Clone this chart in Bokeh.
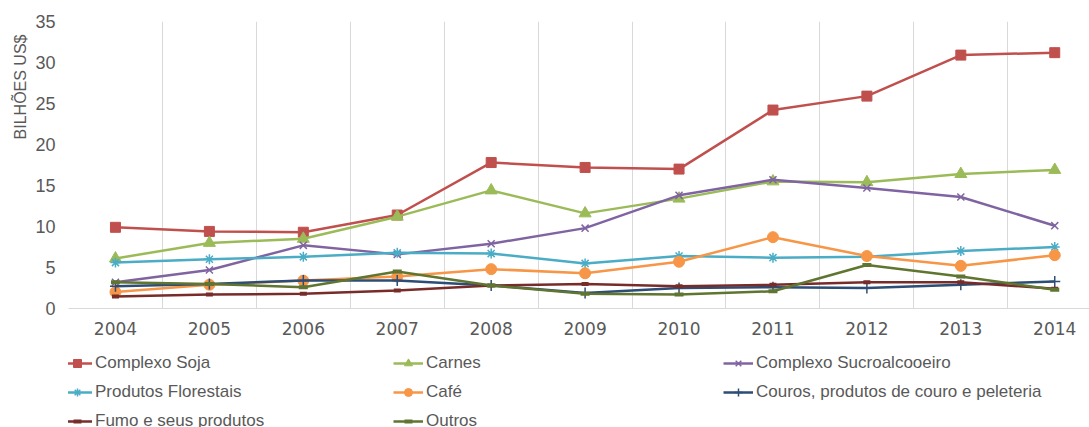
from bokeh.plotting import figure
from bokeh.layouts import column
from bokeh.models import Range1d, FixedTicker, Legend, LegendItem, Title
from bokeh.embed import file_html
from bokeh.resources import INLINE

years = [2004, 2005, 2006, 2007, 2008, 2009, 2010, 2011, 2012, 2013, 2014]
soja = [9.9, 9.4, 9.3, 11.4, 17.8, 17.2, 17.0, 24.2, 25.9, 30.9, 31.2]
carnes = [6.1, 8.0, 8.5, 11.2, 14.4, 11.6, 13.4, 15.5, 15.4, 16.4, 16.9]
sucro = [3.2, 4.7, 7.7, 6.6, 7.9, 9.8, 13.8, 15.7, 14.7, 13.6, 10.1]
florestais = [5.6, 6.0, 6.3, 6.8, 6.7, 5.5, 6.4, 6.2, 6.3, 7.0, 7.5]
cafe = [2.0, 2.9, 3.4, 3.9, 4.8, 4.3, 5.7, 8.7, 6.4, 5.2, 6.5]
couros = [2.7, 3.0, 3.4, 3.4, 2.8, 1.9, 2.5, 2.6, 2.5, 2.9, 3.3]
fumo = [1.45, 1.7, 1.8, 2.2, 2.8, 3.0, 2.7, 2.9, 3.2, 3.2, 2.4]
outros = [3.2, 3.0, 2.6, 4.5, 2.8, 1.8, 1.7, 2.1, 5.3, 3.9, 2.3]
y_ticks = [0, 5, 10, 15, 20, 25, 30, 35]

FONT = "Liberation Sans"
TXT = "#595959"

p = figure(width=1089, height=348, output_backend="svg", toolbar_location=None,
           x_range=Range1d(2003.5, 2014.37), y_range=Range1d(0, 35),
           min_border_left=68, min_border_right=0, min_border_top=21,
           min_border_bottom=40)
p.outline_line_color = None
p.background_fill_color = "white"
p.border_fill_color = "white"
p.ygrid.visible = False
p.xgrid.ticker = FixedTicker(ticks=[y - 0.5 for y in years] + [years[-1] + 0.5])
p.xgrid.grid_line_color = "#D9D9D9"
p.xgrid.grid_line_width = 1

p.xaxis.ticker = FixedTicker(ticks=years)
p.xaxis.axis_line_color = "#D9D9D9"
p.xaxis.major_tick_line_color = None
p.xaxis.minor_tick_line_color = None
p.xaxis.major_tick_out = 0
p.xaxis.major_tick_in = 0
p.xaxis.major_label_standoff = 13
p.xaxis.major_label_text_font = "DejaVu Sans"
p.xaxis.major_label_text_font_size = "17px"
p.xaxis.major_label_text_color = TXT

p.yaxis.ticker = FixedTicker(ticks=y_ticks)
p.yaxis.axis_line_color = None
p.yaxis.major_tick_line_color = None
p.yaxis.minor_tick_line_color = None
p.yaxis.major_tick_out = 0
p.yaxis.major_tick_in = 0
p.yaxis.major_label_standoff = 13
p.yaxis.major_label_text_font = FONT
p.yaxis.major_label_text_font_size = "18px"
p.yaxis.major_label_text_color = TXT

p.add_layout(Title(text="BILHÕES US$", align="right", offset=13,
                   text_font=FONT, text_font_size="16px", text_font_style="normal",
                   text_color=TXT, standoff=8), "left")

series = [
    ("Complexo Soja", soja, "#C0504D", "square", 10, 1),
    ("Carnes", carnes, "#9BBB59", "triangle", 12, 1),
    ("Complexo Sucroalcooeiro", sucro, "#8064A2", "x", 10, 1.5),
    ("Produtos Florestais", florestais, "#4BACC6", "asterisk", 10, 1.5),
    ("Café", cafe, "#F79646", "circle", 11, 1),
    ("Couros, produtos de couro e peleteria", couros, "#2C4D75", "cross", 11, 1.5),
    ("Fumo e seus produtos", fumo, "#772C2A", "dash", 7, 4),
    ("Outros", outros, "#5F7530", "dash", 9, 4),
]

# legend strip below the chart (its ranges keep the series themselves off view)
lg_fig = figure(width=1089, height=79, output_backend="svg", toolbar_location=None,
                x_axis_type=None, y_axis_type=None,
                x_range=Range1d(0, 1), y_range=Range1d(0, 1),
                min_border_left=68, min_border_right=0, min_border_top=0,
                min_border_bottom=0)
lg_fig.outline_line_color = None
lg_fig.xgrid.visible = False
lg_fig.ygrid.visible = False
lg_fig.background_fill_color = "white"
lg_fig.border_fill_color = "white"

items = {}
for name, vals, color, marker, size, mlw in series:
    p.line(years, vals, line_color=color, line_width=2.5)
    p.scatter(years, vals, marker=marker, size=size, fill_color=color,
              line_color=color, line_width=mlw)
    ln = lg_fig.line(years, vals, line_color=color, line_width=2.5)
    sc = lg_fig.scatter(years, vals, marker=marker, size=size, fill_color=color,
                        line_color=color, line_width=mlw)
    items[name] = LegendItem(label=name, renderers=[ln, sc])

columns = [
    (["Complexo Soja", "Produtos Florestais", "Fumo e seus produtos"], -6),
    (["Carnes", "Café", "Outros"], 325),
    (["Complexo Sucroalcooeiro", "Couros, produtos de couro e peleteria"], 655),
]
for names, xoff in columns:
    n = len(names)
    lg = Legend(items=[items[k] for k in names], location=(xoff, 79 - 29 * n),
                orientation="vertical", padding=0, margin=0, spacing=0,
                glyph_width=30, glyph_height=20, label_height=29,
                label_standoff=3, border_line_alpha=0, background_fill_alpha=0,
                label_text_font=FONT, label_text_font_size="17px",
                label_text_color=TXT)
    lg_fig.add_layout(lg, "center")

layout = column(p, lg_fig, spacing=0)
open("out.html", "w").write(file_html(layout, INLINE))
